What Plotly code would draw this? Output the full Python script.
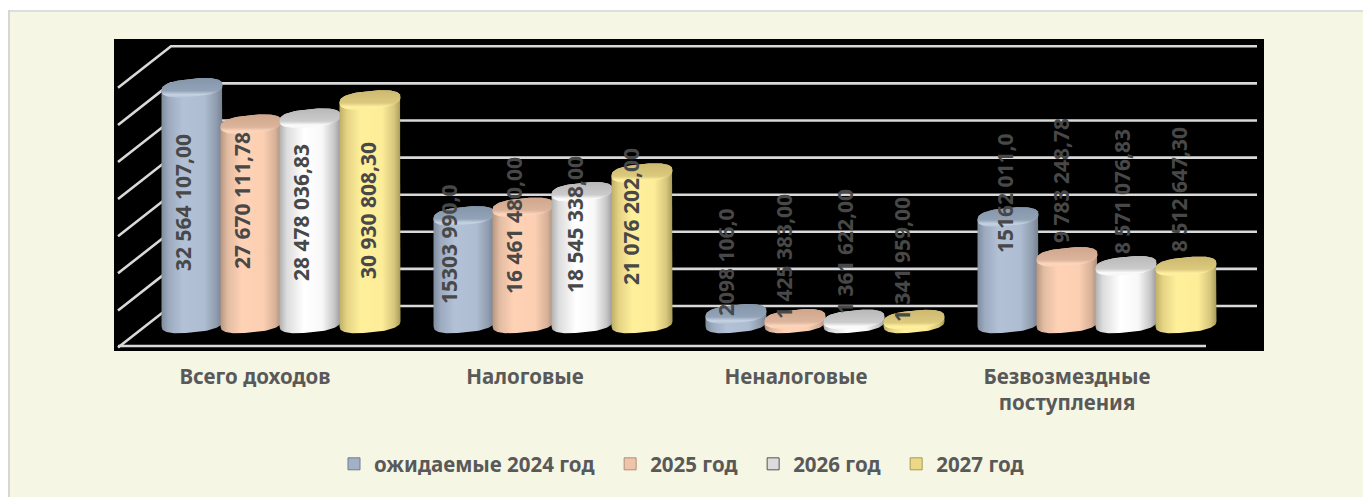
import math
import plotly.graph_objects as go

CATEGORIES = ["Всего доходов", "Налоговые", "Неналоговые", "Безвозмездные<br>поступления"]
SERIES = ["ожидаемые 2024 год", "2025 год", "2026 год", "2027 год"]
V2024 = [32564107.00, 15303990.0, 2098106.0, 15162011.0]
V2025 = [27670111.78, 16461480.00, 1425383.00, 9783248.78]
V2026 = [28478036.83, 18545338.00, 1361622.00, 8571076.83]
V2027 = [30930808.30, 21076202.00, 1341959.00, 8512647.30]
L2024 = ["32 564 107,00", "15303 990,0", "2098 106,0", "15162 011,0"]
L2025 = ["27 670 111,78", "16 461 480,00", "1 425 383,00", "9 783 248,78"]
L2026 = ["28 478 036,83", "18 545 338,00", "1 361 622,00", "8 571 076,83"]
L2027 = ["30 930 808,30", "21 076 202,00", "1 341 959,00", "8 512 647,30"]
GRID_VALUES = [0, 5e6, 10e6, 15e6, 20e6, 25e6, 30e6, 35e6]

VALUES = [V2024, V2025, V2026, V2027]
LABELS = [L2024, L2025, L2026, L2027]

# hand-placed data label centres (page pixels), per series then category
LABEL_X = [[183, 449, 726, 1005], [242, 514, 784, 1061], [301, 575, 845, 1122], [368, 631, 902, 1179]]
LABEL_Y = [[203, 244, 262, 193], [201, 226, 257, 181], [213, 225, 252, 192], [211, 217, 260, 190]]

# styles
FONT = "Noto Sans"
TEXT = "#595959"
BG = "#f5f6e4"
MID = ["#a3b1c6", "#f0c4a8", "#dcdcdc", "#ecd987"]
BODY = [
    [[0, "#7f8c9d"], [0.12, "#9cabbf"], [0.35, "#b3c1d6"], [0.7, "#afbdd2"], [0.9, "#8f9cae"], [1, "#76818f"]],
    [[0, "#b8967f"], [0.12, "#e2bca2"], [0.35, "#ffd2b5"], [0.7, "#fccfb2"], [0.9, "#d6b198"], [1, "#a88a76"]],
    [[0, "#b0b0b0"], [0.12, "#dcdcdc"], [0.4, "#ffffff"], [0.7, "#f8f8f8"], [0.9, "#c6c6c6"], [1, "#9a9a9a"]],
    [[0, "#bfae68"], [0.12, "#e4d384"], [0.35, "#fff09b"], [0.7, "#fdec98"], [0.9, "#d6c67c"], [1, "#a89a58"]],
]
CAP = [
    [[0, "#8596aa"], [0.65, "#93a3b7"], [0.85, "#c6d3e3"], [1, "#b4c2d6"]],
    [[0, "#d0a78d"], [0.65, "#dcb49b"], [0.85, "#fbd6bd"], [1, "#fcd0b3"]],
    [[0, "#b9b9b9"], [0.65, "#cbcbcb"], [0.85, "#fbfbfb"], [1, "#f6f6f6"]],
    [[0, "#cdb96f"], [0.65, "#dbc97e"], [0.85, "#fff0a0"], [1, "#fdec98"]],
]
LEGEND_EDGE = ["#6f7d90", "#b08f7a", "#555555", "#a8985a"]
NAME_PAD = "\u00a0\u00a0"  # widens the legend pitch

# page geometry (pixels)
W, H = 1363, 497
PL, PR, PT, PB = 114, 1264, 39, 351
FLOOR_L, FLOOR_R = 118, 1206
WALL_L, WALL_R = 171, 1257
WALL_Y0, FLOOR_Y = 306, 346
PX_PER_UNIT = 37.1 / 5e6
CAT_PX = (FLOOR_R - FLOOR_L) / 4
X0_PX = FLOOR_L + CAT_PX / 2
TICK_PX = [255, 525, 796, 1067]

x_of = lambda px: (px - X0_PX) / CAT_PX
y_of = lambda py: (WALL_Y0 - py) / PX_PER_UNIT
XR = [x_of(PL), x_of(PR)]
YR = [y_of(PB), y_of(PT)]
px_x = lambda px: (px - PL) / (PR - PL)
px_y = lambda py: (PB - py) / (PB - PT)

# cylinders stand half way into the floor
DEPTH_DX = 27 / CAT_PX
BASE = y_of(323.5)
TOP_BASE = y_of(329.5)  # zero level the cap centres are measured from
OFFS = [-89 / CAT_PX, -30 / CAT_PX, 29 / CAT_PX, 89 / CAT_PX]
RX = 30.5 / CAT_PX
RY = 9.0 / PX_PER_UNIT
TILT = 0.09 * CAT_PX / PX_PER_UNIT  # rise in y-units per x-unit
ROUND = 2.6


def ellipse(cx, cy, a0, a1, n=48):
    xs, ys = [], []
    for k in range(n + 1):
        a = math.radians(a0 + (a1 - a0) * k / n)
        c, s = math.cos(a), math.sin(a)
        dx = RX * math.copysign(abs(c) ** (2 / ROUND), c)
        dy = RY * math.copysign(abs(s) ** (2 / ROUND), s)
        xs.append(cx + dx)
        ys.append(cy + dy + TILT * dx)
    return xs, ys


fig = go.Figure()

# real bars, the gradient cylinders are laid over them
for s, name in enumerate(SERIES):
    fig.add_trace(go.Bar(
        x=[i + DEPTH_DX + OFFS[s] for i in range(4)],
        y=VALUES[s],
        base=[TOP_BASE] * 4,
        width=2 * RX * 0.5,
        name=name + NAME_PAD,
        marker=dict(color=MID[s], line=dict(color=LEGEND_EDGE[s], width=1)),
        showlegend=True,
        hoverinfo="skip",
    ))

# back wall grid, left side wall and front floor edge
for g in GRID_VALUES:
    fig.add_trace(go.Scatter(
        x=[x_of(FLOOR_L), x_of(WALL_L), x_of(WALL_R)],
        y=[g - (FLOOR_Y - WALL_Y0 + 1.5) / PX_PER_UNIT, g, g],
        mode="lines", line=dict(color="#d9d9d9", width=2.6),
        showlegend=False, hoverinfo="skip",
    ))
fig.add_trace(go.Scatter(
    x=[x_of(FLOOR_L), x_of(FLOOR_R)],
    y=[y_of(FLOOR_Y), y_of(FLOOR_Y)],
    mode="lines", line=dict(color="#d9d9d9", width=2.6),
    showlegend=False, hoverinfo="skip",
))

for cat in range(4):
    for s in range(4):
        cx = cat + DEPTH_DX + OFFS[s]
        top = TOP_BASE + VALUES[s][cat]
        bx, by = ellipse(cx, BASE, 180, 360)
        tx, ty = ellipse(cx, top, 0, 180)
        fig.add_trace(go.Scatter(
            x=bx + tx, y=by + ty, fill="toself", mode="lines",
            line=dict(width=0, color="rgba(0,0,0,0)"),
            fillgradient=dict(type="horizontal", colorscale=BODY[s]),
            showlegend=False, hoverinfo="skip",
        ))
        cxs, cys = ellipse(cx, top, 0, 360, 80)
        fig.add_trace(go.Scatter(
            x=cxs, y=cys, fill="toself", mode="lines",
            line=dict(width=0, color="rgba(0,0,0,0)"),
            fillgradient=dict(type="vertical", colorscale=[[1 - p, c] for p, c in reversed(CAP[s])]),
            showlegend=False, hoverinfo="skip",
        ))

anns = []
for s in range(4):
    for cat in range(4):
        anns.append(dict(
            x=px_x(LABEL_X[s][cat]),
            y=px_y(LABEL_Y[s][cat]),
            xref="paper", yref="paper", text=f"<b>{LABELS[s][cat]}</b>", textangle=-90,
            showarrow=False, xanchor="center", yanchor="middle",
            font=dict(family=FONT, size=21, color="#484848"),
        ))


def page_rect(x0, x1, y0, y1, color):
    return dict(type="rect", layer="below", xref="paper", yref="paper",
                x0=px_x(x0), x1=px_x(x1), y0=px_y(y1), y1=px_y(y0),
                fillcolor=color, line=dict(width=0))


fig.update_layout(
    width=W, height=H, autosize=False,
    margin=dict(l=PL, r=W - PR, t=PT, b=H - PB, pad=0),
    paper_bgcolor=BG, plot_bgcolor="#000000",
    barmode="overlay", showlegend=True, annotations=anns,
    font=dict(family=FONT, color=TEXT),
    xaxis=dict(
        range=XR, tickmode="array", tickvals=[x_of(p) for p in TICK_PX],
        ticktext=[f"<b>{c}</b>" for c in CATEGORIES],
        showgrid=False, zeroline=False, showline=False, ticks="",
        ticklabelstandoff=11, tickfont=dict(family=FONT, size=20.5, color=TEXT),
    ),
    yaxis=dict(range=YR, visible=False, showgrid=False, zeroline=False),
    legend=dict(
        orientation="h", x=px_x(687), xanchor="center", xref="paper",
        y=px_y(464), yanchor="middle", yref="paper",
        font=dict(family=FONT, size=20.5, color=TEXT, weight="bold"),
        bgcolor="rgba(0,0,0,0)", itemclick=False, itemdoubleclick=False,
    ),
    shapes=[
        page_rect(0, W, 0, 10, "#ffffff"),
        page_rect(0, 8, 0, H, "#ffffff"),
        page_rect(8, W, 10, 12, "#dedede"),
        page_rect(8, 10, 10, H, "#d6d6d6"),
    ],
)

fig.write_html("out.html", post_script="document.body.style.margin='0';document.body.style.overflow='hidden';",
               config={"displayModeBar": False})
